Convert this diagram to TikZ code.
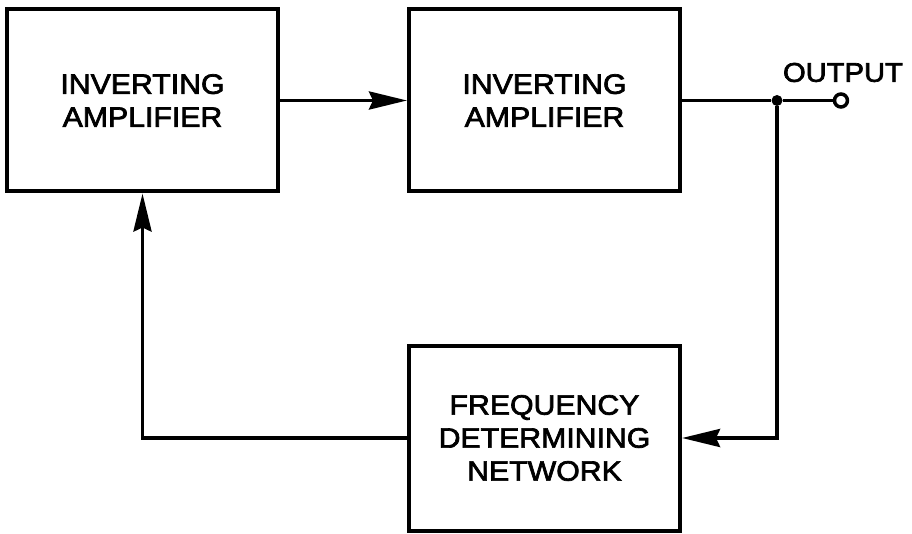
\documentclass[tikz,border=0pt]{standalone}
\usepackage{fontspec}
\newfontfamily\blockfont{Liberation Sans}[FakeStretch=1.08,FakeBold=2.5]
\usetikzlibrary{arrows.meta}
\usetikzlibrary{positioning}

\begin{document}
\begin{tikzpicture}[x=1pt, y=-1pt,
    block/.style = {
      draw, line width=4pt, inner sep=0pt, align=center,
      minimum width=271pt, minimum height=182pt,
      font=\blockfont\fontsize{28}{33}\selectfont,
    },
    lbl/.style = {inner sep=0pt, font=\blockfont\fontsize{27}{33}\selectfont},
    wire/.style = {line width=3.8pt},
    feed/.style = {wire, -{Stealth[length=38pt,width=18pt,inset=4pt]}},
    dot/.style = {circle, fill, inner sep=0pt, minimum size=11pt},
    terminal/.style = {circle, draw, fill=white, line width=3.5pt,
      inner sep=0pt, minimum size=13pt},
  ]
  \useasboundingbox (0,0) rectangle (912,534);

  \node[block] (ampA) at (142.5,100.5) {INVERTING\\AMPLIFIER};
  \node[block, right=127pt of ampA] (ampB) {INVERTING\\AMPLIFIER};
  \node[block, below=150pt of ampB, minimum height=185pt] (net)
    {FREQUENCY\\DETERMINING\\NETWORK};

  \path (ampB.east) ++(95,0) node[dot] (jn) {};
  \node[terminal, right=50pt of jn] (out) {};
  \node[lbl, above=10pt of out, xshift=2pt] (outtxt) {OUTPUT};

  \draw[feed] (ampA) -- (ampB);
  \draw[wire] (ampB) -- (jn) -- (out);
  \draw[feed] (jn) |- (net);
  \draw[feed] (net) -| (ampA);

\end{tikzpicture}
\end{document}
